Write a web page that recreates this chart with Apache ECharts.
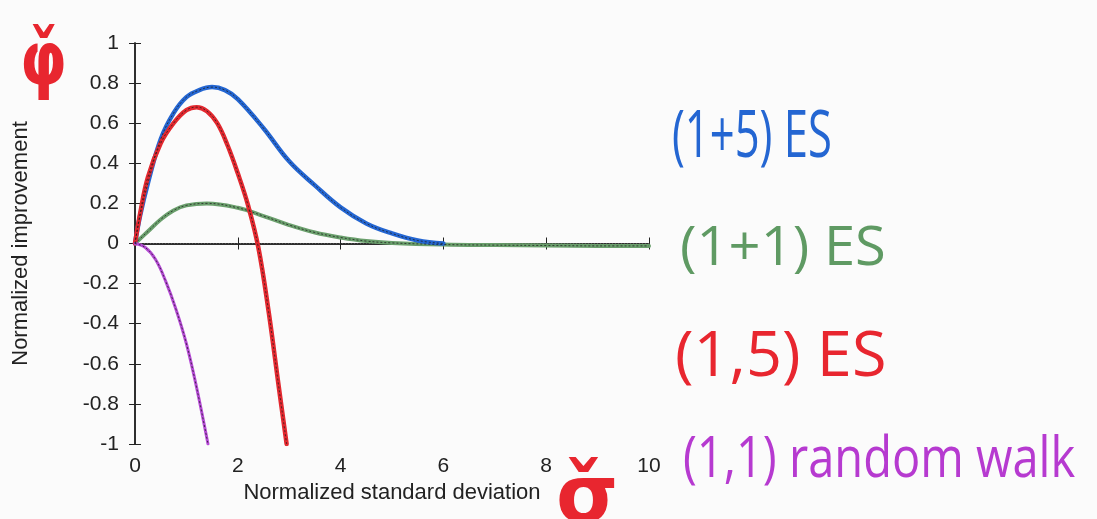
<!DOCTYPE html>
<html><head><meta charset="utf-8">
<script src="https://cdn.jsdelivr.net/npm/echarts@6/dist/echarts.min.js"></script>
<style>html,body{margin:0;padding:0;background:#fbfbfb}#c{width:1097px;height:519px}</style>
</head><body><div id="c"></div>
<script>
var xTicks = [0, 2, 4, 6, 8, 10];
var yTicks = [-1, -0.8, -0.6, -0.4, -0.2, 0, 0.2, 0.4, 0.6, 0.8, 1];

var blueX = [0, 0.1, 0.25, 0.5, 0.75, 1.0, 1.25, 1.5, 1.75, 2.0, 2.5, 3.0, 3.5, 4.0, 4.5, 5.0, 5.5, 6.0];
var blueY = [0, 0.14, 0.3, 0.52, 0.65, 0.73, 0.765, 0.78, 0.765, 0.72, 0.575, 0.41, 0.29, 0.18, 0.1, 0.05, 0.015, 0];

var greenX = [0, 0.25, 0.5, 0.75, 1.0, 1.4, 2.0, 2.5, 3.0, 3.5, 4.0, 4.5, 5.0, 6.0, 7.0, 8.0, 9.0, 10.0];
var greenY = [0, 0.06, 0.12, 0.165, 0.19, 0.2, 0.178, 0.137, 0.092, 0.055, 0.03, 0.012, 0.003, -0.005, -0.008, -0.01, -0.012, -0.012];

var redX = [0, 0.1, 0.25, 0.5, 0.75, 1.0, 1.2, 1.4, 1.6, 1.8, 2.0, 2.2, 2.4, 2.6, 2.8, 2.95];
var redY = [0, 0.15, 0.33, 0.5, 0.6, 0.665, 0.68, 0.66, 0.6, 0.49, 0.35, 0.19, -0.02, -0.34, -0.72, -1.0];

var purpleX = [0, 0.2, 0.4, 0.6, 0.8, 1.0, 1.2, 1.42];
var purpleY = [0, -0.02, -0.08, -0.19, -0.33, -0.5, -0.72, -1.0];

var zeroX = [0, 10];
var zeroY = [0, 0];

var labels = ['(1+5) ES', '(1+1) ES', '(1,5) ES', '(1,1) random walk'];

function pairs(xs, ys) { return xs.map(function (x, i) { return [x, ys[i]]; }); }

var chart = echarts.init(document.getElementById('c'));
var font = 'Liberation Sans, Arial, sans-serif';
var axisLine = { show: true, lineStyle: { color: '#222', width: 1.5 } };
var tick = { show: true, inside: true, length: 6, lineStyle: { color: '#222' } };

function curve(xs, ys, color, w) {
  return [{
    type: 'line', data: pairs(xs, ys), smooth: 0.4, symbol: 'none',
    lineStyle: { color: color, width: w, cap: 'round' }, z: 3
  }, {
    type: 'line', data: pairs(xs, ys), smooth: 0.4, symbol: 'none',
    lineStyle: { color: 'rgba(30,30,30,0.75)', width: 1, type: [2, 2] }, z: 4
  }];
}

var series = [{
  type: 'line', data: pairs(zeroX, zeroY), symbol: 'none',
  lineStyle: { color: '#555', width: 1, type: [1, 2] }, z: 2
}];
series = series.concat(curve(greenX, greenY, '#6a9f6c', 4));
series = series.concat(curve(blueX, blueY, '#2466d2', 4.5));
series = series.concat(curve(redX, redY, '#e3282f', 4.5));
series = series.concat(curve(purpleX, purpleY, '#b64ad6', 3));

chart.setOption({
  backgroundColor: '#fbfbfb',
  animation: false,
  grid: { left: 135, right: 448, top: 43, bottom: 75 },
  xAxis: [{
    type: 'value', min: 0, max: 10, interval: 2,
    name: 'Normalized standard deviation', nameLocation: 'middle', nameGap: 37,
    nameTextStyle: { color: '#222', fontSize: 22, fontFamily: font },
    axisLine: axisLine, axisTick: tick,
    axisLabel: { color: '#222', fontSize: 21, fontFamily: font, margin: 12,
      formatter: function (v) { return xTicks.indexOf(v) >= 0 ? String(v) : ''; } },
    splitLine: { show: false }
  }, {
    type: 'value', min: 0, max: 10, interval: 2, position: 'top',
    axisLine: axisLine, axisTick: tick,
    axisLabel: { show: false }, splitLine: { show: false }
  }],
  yAxis: [{
    type: 'value', min: -1, max: 1, interval: 0.2,
    name: 'Normalized improvement', nameLocation: 'middle', nameGap: 103,
    nameTextStyle: { color: '#222', fontSize: 22, fontFamily: font },
    axisLine: axisLine, axisTick: tick,
    axisLabel: { color: '#222', fontSize: 21, fontFamily: font, margin: 16,
      formatter: function (v) {
        var r = Math.round(v * 10) / 10;
        for (var i = 0; i < yTicks.length; i++) if (Math.abs(yTicks[i] - r) < 1e-9) return String(yTicks[i]);
        return '';
      } },
    splitLine: { show: false }
  }, {
    type: 'value', min: -1, max: 1, interval: 0.2, position: 'right',
    axisLine: axisLine, axisTick: tick,
    axisLabel: { show: false }, splitLine: { show: false }
  }],
  series: series,
  graphic: [
    { type: 'text', left: 672, top: 105, scaleX: 0.66, style: { text: labels[0], fill: '#2466d2', font: '66px "Open Sans", sans-serif' } },
    { type: 'text', left: 680, top: 222, scaleX: 1.02, style: { text: labels[1], fill: '#5f9a63', font: '55px "Open Sans", sans-serif' } },
    { type: 'text', left: 675, top: 327, scaleX: 1.0, style: { text: labels[2], fill: '#e8262f', font: '63px "Open Sans", sans-serif' } },
    { type: 'text', left: 683, top: 433, scaleX: 0.84, style: { text: labels[3], fill: '#b63ad0', font: '56px "Open Sans", sans-serif' } },
    { type: 'text', left: 20, top: 27, scaleX: 0.8, style: { text: 'φ̌', fill: '#e8262f', font: 'bold 75px "DejaVu Sans", sans-serif' } },
    { type: 'text', left: 556, top: 461, style: { text: 'σ̌', fill: '#e8262f', font: 'bold 80px "DejaVu Sans", sans-serif' } }
  ]
});
</script>
</body></html>
